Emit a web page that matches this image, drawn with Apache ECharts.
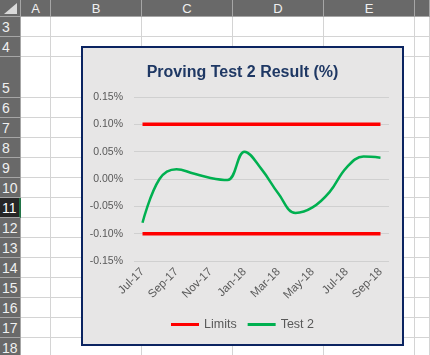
<!DOCTYPE html>
<html lang="en">
<head>
  <meta charset="utf-8">
  <title>Proving Test 2 Result (%)</title>
  <script src="https://cdn.jsdelivr.net/npm/echarts@6/dist/echarts.min.js"></script>
  <style>
    body { margin: 0; width: 430px; height: 355px; overflow: hidden; background: #fff; position: relative; font-family: "Liberation Sans", Arial, sans-serif; }
    .hdr { position: absolute; background: #696969; color: #f0f0f0; font-size: 14px; box-sizing: border-box; }
    .col { top: 0; height: 17px; text-align: center; line-height: 17px; border-right: 1px solid #a6a6a6; border-bottom: 1px solid #a6a6a6; }
    .row { left: 0; width: 21px; text-align: left; padding-left: 2px; border-bottom: 1px solid #a6a6a6; border-right: 1px solid #a6a6a6; display: flex; align-items: flex-end; line-height: 18px; }
    .vline { position: absolute; top: 17px; bottom: 0; width: 1px; background: #d4d4d4; }
    .hline { position: absolute; left: 21px; right: 0; height: 1px; background: #d4d4d4; }
    #box { position: absolute; left: 81px; top: 46px; width: 323px; height: 300px; box-sizing: border-box; border: 2px solid #0b2461; background: #e7e6e6; }
    #chart { width: 319px; height: 296px; }
  </style>
</head>
<body>
  <div id="sheet"></div>
  <div id="box"><div id="chart"></div></div>

  <script type="text/javascript">
    // spreadsheet backdrop
    var colEdges = [21, 51, 142, 233, 324, 415, 430];
    var colNames = ['A', 'B', 'C', 'D', 'E', ''];
    var rowEdges = [17, 37, 57, 98, 118, 138, 158, 178, 198, 218, 238, 258, 278, 298, 318, 338, 358];
    var rowNames = ['3', '4', '5', '6', '7', '8', '9', '10', '11', '12', '13', '14', '15', '16', '17', '18'];

    var sheet = document.getElementById('sheet');
    var html = '<div class="hdr col" style="left:0;width:21px"></div>';
    html += '<div style="position:absolute;left:4px;top:3px;width:0;height:0;border-left:13px solid transparent;border-bottom:11px solid #d9d9d9"></div>';
    for (var i = 0; i < colNames.length; i++) {
      html += '<div class="hdr col" style="left:' + colEdges[i] + 'px;width:' + (colEdges[i + 1] - colEdges[i]) + 'px;font-size:13px">' + colNames[i] + '</div>';
      html += '<div class="vline" style="left:' + (colEdges[i + 1] - 1) + 'px"></div>';
    }
    for (var j = 0; j < rowNames.length; j++) {
      var sel = rowNames[j] === '11';
      html += '<div class="hdr row" style="top:' + rowEdges[j] + 'px;height:' + (rowEdges[j + 1] - rowEdges[j]) + 'px;' +
        (sel ? 'background:#262626;color:#fff;border-right:2px solid #217346;' : '') + '">' + rowNames[j] + '</div>';
      html += '<div class="hline" style="top:' + (rowEdges[j + 1] - 1) + 'px"></div>';
    }
    sheet.innerHTML = html;

    // chart data
    var months = ['Jul-17', 'Aug-17', 'Sep-17', 'Oct-17', 'Nov-17', 'Dec-17', 'Jan-18', 'Feb-18',
                  'Mar-18', 'Apr-18', 'May-18', 'Jun-18', 'Jul-18', 'Aug-18', 'Sep-18'];
    var test2 = [-0.080, 0.000, 0.018, 0.010, 0.002, -0.002, 0.050, 0.018,
                 -0.027, -0.062, -0.052, -0.024, 0.021, 0.041, 0.039];
    var upperLimit = [0.10, 0.10, 0.10, 0.10, 0.10, 0.10, 0.10, 0.10, 0.10, 0.10, 0.10, 0.10, 0.10, 0.10, 0.10];
    var lowerLimit = [-0.10, -0.10, -0.10, -0.10, -0.10, -0.10, -0.10, -0.10, -0.10, -0.10, -0.10, -0.10, -0.10, -0.10, -0.10];

    var myChart = echarts.init(document.getElementById('chart'));
    var txt = '#595959';

    var option = {
      backgroundColor: '#e7e6e6',
      animation: false,
      title: {
        text: 'Proving Test 2 Result (%)',
        left: 'center',
        top: 12,
        textStyle: { fontSize: 16, fontWeight: 'bold', color: '#1f3864', fontFamily: 'Liberation Sans' }
      },
      legend: {
        bottom: 8,
        left: 'center',
        icon: 'rect',
        itemWidth: 28,
        itemHeight: 3,
        itemGap: 11,
        textStyle: { color: txt, fontSize: 12.5, fontFamily: 'Liberation Sans' },
        data: ['Limits', 'Test 2']
      },
      grid: { left: 51, right: 13, top: 49, bottom: 83 },
      xAxis: {
        type: 'category',
        data: months,
        boundaryGap: true,
        axisLine: { show: false },
        axisTick: { show: false },
        axisLabel: { interval: 1, rotate: 45, color: txt, fontSize: 11.5, margin: 9, fontFamily: 'Liberation Sans' }
      },
      yAxis: {
        type: 'value',
        min: -0.15,
        max: 0.15,
        interval: 0.05,
        axisLine: { show: false },
        axisTick: { show: false },
        axisLabel: {
          color: txt, fontSize: 10.5, margin: 11, fontFamily: 'Liberation Sans',
          formatter: function (v) { return v.toFixed(2) + '%'; }
        },
        splitLine: { lineStyle: { color: '#d0d0d0', width: 1 } }
      },
      series: [
        {
          name: 'Limits', type: 'line', data: upperLimit, symbol: 'none',
          lineStyle: { color: '#ff0000', width: 3.5 }, itemStyle: { color: '#ff0000' }
        },
        {
          name: 'Limits', type: 'line', data: lowerLimit, symbol: 'none',
          lineStyle: { color: '#ff0000', width: 3.5 }, itemStyle: { color: '#ff0000' }
        },
        {
          name: 'Test 2', type: 'line', data: test2, symbol: 'none', smooth: 0.4,
          lineStyle: { color: '#00b050', width: 2.5 }, itemStyle: { color: '#00b050' }
        }
      ]
    };

    myChart.setOption(option);
  </script>
</body>
</html>
